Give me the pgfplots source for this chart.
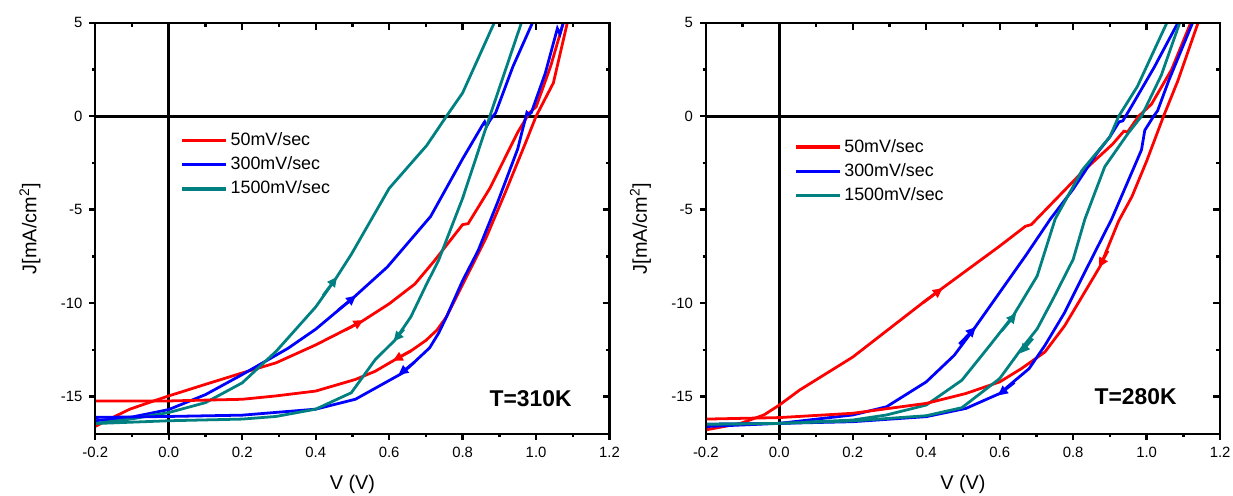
\documentclass[border=0pt]{standalone}
\usepackage{fontspec}
\setmainfont{Liberation Sans}
\usepackage{pgfplots}
\pgfplotsset{compat=1.18}
\usetikzlibrary{arrows.meta}

\definecolor{cred}{RGB}{255,0,0}
\definecolor{cblue}{RGB}{0,0,255}
\definecolor{cteal}{RGB}{0,128,128}

\pgfplotsset{
  jvbase/.style={
    scale only axis, width=259pt, height=207pt,
    xmin=-0.2, xmax=1.2, ymin=-17, ymax=5,
    xtick={-0.2,0,0.2,0.4,0.6,0.8,1.0,1.2},
    ytick={-15,-10,-5,0,5},
    minor x tick num=1, minor y tick num=1,
    axis line style={line width=1.2pt},
    tick style={line width=1.2pt, black},
  },
  jvmain/.style={
    jvbase,
    tick pos=left, tick align=outside,
    major tick length=3pt, minor tick length=1.6pt,
    /pgf/number format/assume math mode=true,
    tick label style={font=\fontsize{7.5}{9}\selectfont},
    xticklabel style={/pgf/number format/.cd, fixed, fixed zerofill, precision=1},
    label style={font=\fontsize{9}{11}\selectfont},
    xlabel={V (V)},
    ylabel={J[mA/cm\textsuperscript{2}]},
    every axis x label/.style={at={(axis description cs:0.5,-0.123)}, anchor=center},
    every axis y label/.style={at={(axis description cs:-0.127,0.5)}, rotate=90, anchor=center},
    legend cell align=left,
    legend style={draw=none, fill=none, font=\fontsize{9}{11}\selectfont,
      row sep=1.2pt, nodes={inner sep=1.5pt}},
    legend image code/.code={\draw[#1, line width=1.6pt] (0pt,0pt) -- (22pt,0pt);},
  },
  jvtop/.style={
    jvbase,
    tick pos=right, tick align=inside,
    major tick length=3.5pt, minor tick length=2pt,
    xticklabels={}, yticklabels={},
  },
  crv/.style={line width=1.4pt},
  arw/.style={line width=1.4pt, -{Triangle[length=5pt,width=4.6pt]}, forget plot},
}

\begin{document}
\begin{tikzpicture}
\useasboundingbox (-48pt,-31pt) rectangle (573pt,218.5pt);

% ---------------- left panel, T=310K ----------------
\begin{axis}[jvmain, legend style={at={(axis description cs:0.154,0.751)}, anchor=north west}]
\addplot[black, line width=1.5pt, forget plot] coordinates {(0,-17)(0,5)};
\addplot[black, line width=1.5pt, forget plot] coordinates {(-0.2,0)(1.2,0)};

\addplot[cred, crv] coordinates {
(-0.2,-16.6)(-0.15,-16.1)(-0.106,-15.68)(-0.05,-15.3)(0,-14.97)(0.1,-14.35)(0.2,-13.74)
(0.292,-13.2)(0.4,-12.24)(0.524,-11.0)(0.6,-10.04)(0.67,-8.98)(0.723,-7.74)(0.8,-5.8)
(0.815,-5.75)(0.874,-3.86)(0.95,-0.86)(0.982,0.19)(1.0,0.5)(1.04,2.7)(1.074,5.0)};
\addlegendentry{50mV/sec}
\addplot[cblue, crv] coordinates {
(-0.2,-16.3)(-0.1,-16.1)(0,-15.7)(0.1,-14.9)(0.198,-13.85)(0.324,-12.43)(0.4,-11.4)
(0.505,-9.67)(0.595,-8.07)(0.713,-5.36)(0.8,-2.28)(0.853,-0.51)(0.86,-0.3)(0.865,-0.55)
(0.875,-0.2)(0.89,0.19)(0.937,2.66)(0.99,5)};
\addlegendentry{300mV/sec}
\addplot[cteal, crv] coordinates {
(-0.2,-16.45)(-0.1,-16.2)(0,-15.86)(0.1,-15.33)(0.2,-14.27)(0.292,-12.59)(0.4,-10.21)
(0.454,-8.71)(0.497,-7.39)(0.6,-3.86)(0.702,-1.57)(0.756,0)(0.8,1.25)(0.886,5)};
\addlegendentry{1500mV/sec}

\addplot[cred, crv, forget plot] coordinates {
(1.085,5)(1.047,1.78)(1.0,0)(0.972,-1.39)(0.917,-4.04)(0.864,-6.5)(0.81,-8.62)(0.756,-10.74)
(0.73,-11.45)(0.7,-12.0)(0.66,-12.55)(0.616,-13.03)(0.562,-13.65)(0.508,-14.09)(0.4,-14.71)
(0.292,-14.97)(0.2,-15.15)(0,-15.24)(-0.2,-15.24)};
\addplot[cblue, crv, forget plot] coordinates {
(1.074,5)(1.065,4.4)(1.058,4.7)(1.025,2.3)(0.987,0.19)(0.98,0.1)(0.975,0.2)(0.95,-1.75)
(0.896,-4.57)(0.842,-7.2)(0.8,-8.8)(0.756,-10.74)(0.735,-11.6)(0.71,-12.4)(0.68,-12.95)
(0.637,-13.74)(0.573,-14.44)(0.508,-15.15)(0.4,-15.68)(0.2,-16.0)(0,-16.07)(-0.2,-16.12)};
\addplot[cteal, crv, forget plot] coordinates {
(0.96,5)(0.874,0)(0.8,-4.39)(0.734,-7.74)(0.702,-8.98)(0.659,-10.74)(0.616,-11.98)(0.562,-13.03)
(0.497,-14.8)(0.4,-15.68)(0.292,-16.07)(0.2,-16.21)(0,-16.3)(-0.2,-16.45)};

% direction arrows
\addplot[cred, arw] coordinates {(0.48,-11.45)(0.53,-10.92)};
\addplot[cred, arw] coordinates {(0.66,-12.55)(0.61,-13.1)};
\addplot[cblue, arw] coordinates {(0.46,-10.4)(0.51,-9.6)};
\addplot[cblue, arw] coordinates {(0.67,-13.15)(0.625,-13.85)};
\addplot[cteal, arw] coordinates {(0.42,-9.6)(0.458,-8.6)};
\addplot[cteal, arw] coordinates {(0.64,-11.4)(0.612,-12.05)};

\node[font=\bfseries\fontsize{11.5}{13}\selectfont] at (axis cs:0.985,-15.1) {T=310K};
\end{axis}
\begin{axis}[jvtop]
\end{axis}

% ---------------- right panel, T=280K ----------------
\begin{axis}[jvmain, at={(307.5pt,0pt)}, legend style={at={(axis description cs:0.16,0.735)}, anchor=north west}]
\addplot[black, line width=1.5pt, forget plot] coordinates {(0,-17)(0,5)};
\addplot[black, line width=1.5pt, forget plot] coordinates {(-0.2,0)(1.2,0)};

\addplot[cred, crv] coordinates {
(-0.2,-16.79)(-0.106,-16.44)(-0.042,-15.99)(0,-15.46)(0.055,-14.66)(0.2,-12.89)(0.4,-9.84)
(0.44,-9.26)(0.6,-6.95)(0.67,-5.89)(0.686,-5.8)(0.824,-3.0)(0.907,-1.5)(0.938,-0.8)(0.948,-0.85)
(0.978,0)(1.013,0.64)(1.068,2.5)(1.12,5)};
\addlegendentry{50mV/sec}
\addplot[cblue, crv] coordinates {
(-0.2,-16.61)(0,-16.44)(0.2,-15.99)(0.292,-15.55)(0.4,-14.22)(0.476,-12.8)(0.53,-11.38)
(0.6,-9.43)(0.67,-7.48)(0.738,-5.5)(0.8,-3.9)(0.864,-2.0)(0.9,-1.1)(0.925,-0.3)
(0.935,-0.25)(0.955,0.4)(1.02,2.6)(1.085,5)};
\addlegendentry{300mV/sec}
\addplot[cteal, crv] coordinates {
(-0.2,-16.49)(0,-16.44)(0.2,-16.26)(0.292,-15.99)(0.4,-15.46)(0.497,-14.13)(0.573,-12.27)
(0.637,-10.67)(0.702,-8.55)(0.751,-5.5)(0.824,-2.9)(0.9,-1.1)(0.924,0)(0.975,1.6)(1.055,5)};
\addlegendentry{1500mV/sec}

\addplot[cred, crv, forget plot] coordinates {
(1.14,5)(1.085,1.9)(1.046,0)(1.0,-2.4)(0.96,-4.3)(0.924,-5.6)(0.874,-8.01)(0.831,-9.43)
(0.777,-11.21)(0.723,-12.62)(0.659,-13.51)(0.6,-14.22)(0.508,-14.84)(0.4,-15.37)(0.2,-15.9)
(0,-16.13)(-0.2,-16.21)};
\addplot[cblue, crv, forget plot] coordinates {
(1.125,5)(1.06,1.9)(1.03,0.3)(1.019,0)(0.995,-0.75)(0.986,-1.8)(0.951,-3.4)(0.905,-5.5)
(0.831,-8.37)(0.777,-10.5)(0.723,-12.27)(0.68,-13.51)(0.637,-14.22)(0.6,-14.84)(0.508,-15.64)
(0.4,-16.08)(0.2,-16.35)(0,-16.44)(-0.2,-16.49)};
\addplot[cteal, crv, forget plot] coordinates {
(1.09,5)(1.04,2.2)(0.986,0)(0.95,-0.9)(0.886,-2.7)(0.832,-5.5)(0.8,-7.66)(0.745,-9.79)
(0.702,-11.38)(0.659,-12.45)(0.6,-14.04)(0.497,-15.6)(0.4,-16.03)(0.2,-16.31)(0,-16.44)(-0.2,-16.49)};

% direction arrows
\addplot[cred, arw] coordinates {(0.39,-10.0)(0.445,-9.2)};
\addplot[cred, arw] coordinates {(0.895,-7.2)(0.87,-8.1)};
\addplot[cblue, arw] coordinates {(0.49,-12.2)(0.535,-11.28)};
\addplot[cblue, arw] coordinates {(0.64,-14.25)(0.595,-14.95)};
\addplot[cteal, arw] coordinates {(0.605,-11.5)(0.645,-10.55)};
\addplot[cteal, arw] coordinates {(0.69,-11.9)(0.655,-12.7)};

\node[font=\bfseries\fontsize{11.5}{13}\selectfont] at (axis cs:0.97,-15.0) {T=280K};
\end{axis}
\begin{axis}[jvtop, at={(307.5pt,0pt)}]
\end{axis}
\end{tikzpicture}
\end{document}
